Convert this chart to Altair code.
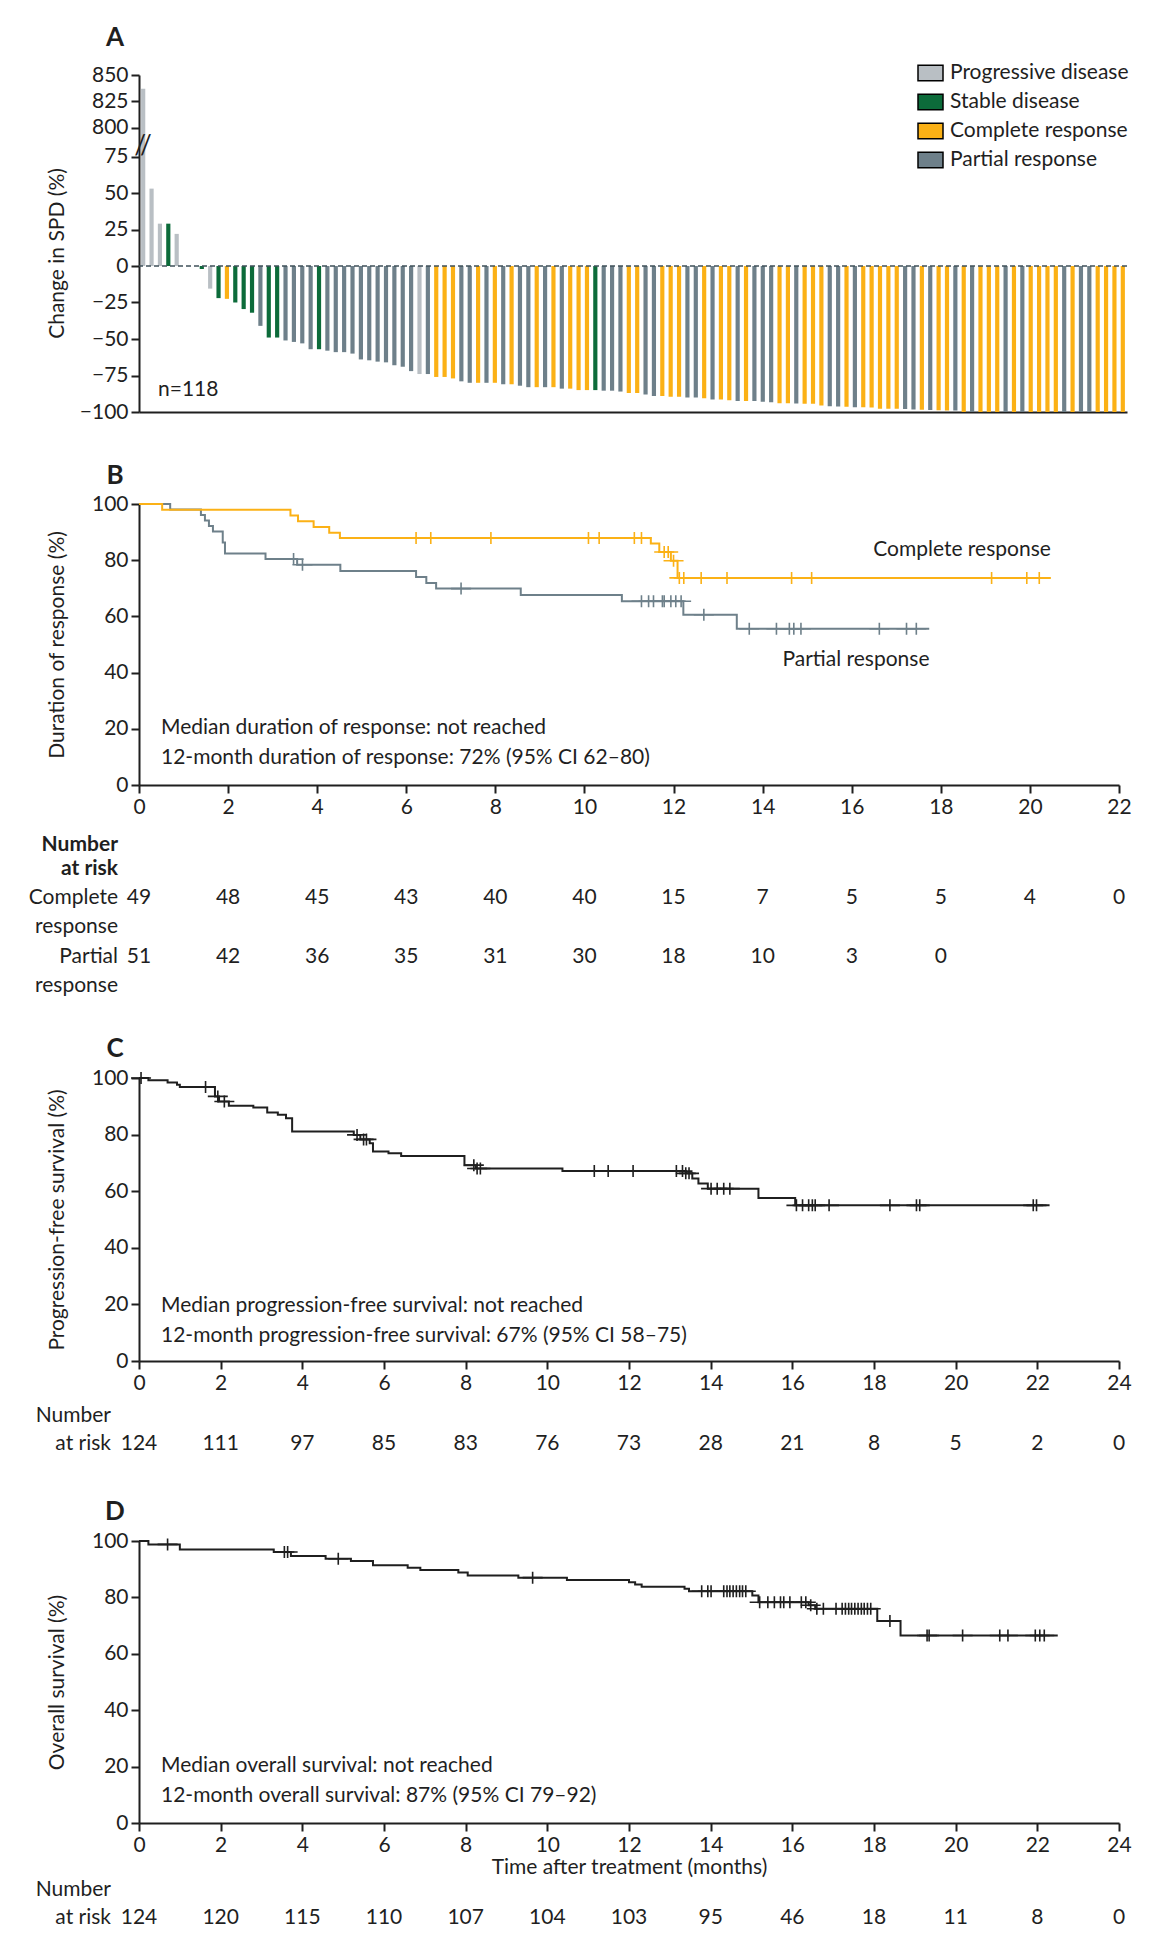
import altair as alt
import pandas as pd

FONT = "Lato"
FS = 21
INK = "#1f1f1f"

RESP_ORDER = ["Progressive disease", "Stable disease", "Complete response", "Partial response"]
RESP_COLORS = ["#b9bfc4", "#0c6b3a", "#fbb116", "#6e808a"]
CODE = {"PD": RESP_ORDER[0], "SD": RESP_ORDER[1], "CR": RESP_ORDER[2], "PR": RESP_ORDER[3]}

# ---------------- Panel A: waterfall ----------------
wf_change = [837, 53, 29, 29, 22, 0, 0,
             -2, -15.5, -22, -22.5, -25, -29.5, -32, -41, -49, -49, -51, -52, -53, -57, -57, -58, -59, -59, -60, -64,
             -64.6, -65.5, -66, -68, -69, -72, -74, -74, -76, -76, -77, -79, -80, -80, -80, -80, -81, -81, -82, -83,
             -83, -83, -83, -84, -84, -85, -85, -85,
             -85.4, -85.4, -86, -87, -87, -88, -89, -89, -89.6, -89.6, -90, -90, -90.5, -91.4, -91.4, -92, -92.5,
             -92.5, -92.5, -93, -93.3, -94, -94, -94.2, -94.4, -94.4, -95.6, -96,
             -96.2, -96.4, -96.8, -96.8, -97, -97.7, -97.7, -97.7, -98, -98.3, -98.5, -98.7, -98.8, -98.9, -99,
             -100, -100, -100, -100, -100, -100, -100, -100, -100, -100, -100, -100, -100,
             -100, -100, -100, -100, -100, -100, -100]
wf_code = ["PD", "PD", "PD", "SD", "PD", "SD", "SD",
           "SD", "PD", "SD", "CR", "SD", "SD", "SD", "PR", "SD", "SD", "PR", "PR", "PR", "PR", "SD", "PR", "PR", "PR", "PR", "PR",
           "PR", "PR", "PR", "PR", "PR", "PR", "PD", "PR", "CR", "CR", "CR", "PR", "PR", "CR", "PR", "CR", "PR", "CR", "PR", "PR",
           "CR", "PR", "CR", "PR", "CR", "CR", "CR", "SD",
           "PR", "PR", "PR", "CR", "CR", "PR", "PR", "CR", "CR", "CR", "PR", "PR", "CR", "PR", "CR", "CR", "PR",
           "CR", "PR", "PR", "PR", "CR", "CR", "PR", "CR", "CR", "CR", "PR",
           "PR", "CR", "PR", "CR", "CR", "CR", "CR", "CR", "PR", "PR", "CR", "PR", "CR", "CR", "PR",
           "CR", "PR", "CR", "CR", "CR", "PR", "CR", "PR", "CR", "CR", "CR", "CR", "PR",
           "CR", "PR", "PR", "CR", "CR", "CR", "CR"]
yA_ticks = [-100, -75, -50, -25, 0, 25, 50, 75, 800, 825, 850]

# ---------------- Panel B: duration of response ----------------
cr_t = [0, 0.52, 3.40, 3.57, 3.92, 4.27, 4.51, 11.49, 11.68, 11.94, 12.09]
cr_s = [100, 97.96, 95.9, 93.9, 91.8, 89.8, 87.9, 85.9, 82.9, 79.8, 73.7]
cr_end = 20.47
cr_cens = [6.22, 6.55, 7.90, 10.09, 10.33, 11.12, 11.28, 11.79, 11.88, 12.0, 12.13, 12.23, 12.62, 13.2,
           14.65, 15.1, 19.14, 19.93, 20.21]
pr_t = [0, 0.70, 1.39, 1.48, 1.57, 1.66, 1.88, 1.93, 2.84, 3.55, 4.52, 6.22, 6.45, 6.67, 8.57, 10.84, 12.22, 13.42]
pr_s = [100, 98.04, 96.08, 94.12, 92.16, 90.2, 86.27, 82.35, 80.39, 78.4, 76.2, 74.0, 71.9, 69.9, 67.6, 65.4, 60.6, 55.6]
pr_end = 17.74
pr_cens = [3.47, 3.67, 7.23, 11.28, 11.44, 11.55, 11.75, 11.79, 11.94, 12.05, 12.17, 12.68, 13.70, 14.31,
           14.60, 14.70, 14.86, 16.62, 17.23, 17.45]
riskB_months = list(range(0, 23, 2))
riskB_cr = [49, 48, 45, 43, 40, 40, 15, 7, 5, 5, 4, 0]
riskB_pr = [51, 42, 36, 35, 31, 30, 18, 10, 3, 0]

# ---------------- Panel C: progression-free survival ----------------
pfs_t = [0, 0.23, 0.70, 0.93, 1.00, 1.86, 1.96, 2.20, 2.80, 3.14, 3.40, 3.60, 3.75, 5.26, 5.42, 5.65, 5.73,
         6.11, 6.42, 7.97, 8.25, 10.37, 13.39, 13.55, 13.70, 13.93, 15.17, 16.07]
pfs_s = [100, 99.2, 98.4, 97.6, 96.8, 93.5, 91.7, 90.2, 89.6, 87.8, 87.0, 85.8, 81.1, 79.9, 78.3, 76.9, 74.0,
         73.4, 72.4, 69.2, 68.0, 67.1, 66.3, 64.5, 62.7, 60.9, 57.6, 55.0]
pfs_end = 22.3
pfs_cens = [0.05, 1.63, 1.93, 2.09, 5.34, 5.5, 5.57, 8.2, 8.28, 8.36, 11.15, 11.49, 12.1, 13.16, 13.31, 13.39,
            13.47, 14.01, 14.16, 14.32, 14.47, 16.1, 16.25, 16.4, 16.49, 16.56, 16.9, 18.39, 19.04, 19.12, 21.9, 21.98]
risk_months24 = list(range(0, 25, 2))
riskC = [124, 111, 97, 85, 83, 76, 73, 28, 21, 8, 5, 2, 0]

# ---------------- Panel D: overall survival ----------------
os_t = [0, 0.23, 1.00, 3.30, 3.72, 4.57, 5.19, 5.73, 6.58, 6.89, 7.82, 8.05, 9.29, 10.48, 12.00, 12.15, 12.31,
        13.36, 13.47, 15.02, 15.17, 16.40, 16.56, 18.08, 18.65]
os_s = [100, 98.8, 97.0, 96.1, 94.7, 93.7, 92.9, 91.4, 90.5, 89.7, 88.8, 87.8, 87.0, 86.2, 85.4, 84.6, 83.8,
        83.1, 82.2, 80.7, 78.3, 77.2, 76.0, 71.6, 66.5]
os_end = 22.5
os_cens = [0.7, 3.56, 3.64, 4.88, 9.64, 13.78, 13.93, 14.01, 14.32, 14.40, 14.47, 14.55, 14.63, 14.71, 14.78,
           14.86, 15.2, 15.40, 15.56, 15.71, 15.79, 15.94, 16.22, 16.33, 16.45, 16.6, 16.76, 17.07, 17.22, 17.30,
           17.38, 17.45, 17.53, 17.61, 17.69, 17.76, 17.84, 17.92, 18.39, 19.3, 19.35, 20.17, 21.08, 21.28, 21.95,
           22.06, 22.17]
riskD = [124, 120, 115, 110, 107, 104, 103, 95, 46, 18, 11, 8, 0]

# ======================================================================
CROSS = "M-1,0H1M0,-0.6V0.6"
LEFT = -130


def one(**kw):
    return alt.Chart(pd.DataFrame({k: [v] for k, v in kw.items()} if kw else {"a": [0]}))


def spacer(top, bottom):
    return one().mark_rule(color="white", strokeWidth=0.5).encode(
        x=alt.value(LEFT), y=alt.value(top), y2=alt.value(bottom))


def label(txt, x, y, size=FS, weight="normal", align="left"):
    return one(t=txt).mark_text(fontSize=size, fontWeight=weight, align=align, baseline="middle",
                                font=FONT, color=INK).encode(text="t:N", x=x, y=y)


def step_df(ts, ss, end):
    return pd.DataFrame({"t": ts + [end], "s": ss + [ss[-1]]})


def at(ts, ss, t):
    v = ss[0]
    for tt, vv in zip(ts, ss):
        if tt <= t:
            v = vv
    return v


def cens_df(ts, ss, cens):
    return pd.DataFrame({"t": cens, "s": [at(ts, ss, c) for c in cens]})


# ---------------- Panel A ----------------
A_W, A_H = 988, 337
dfA = pd.DataFrame({"idx": list(range(1, len(wf_change) + 1)), "change": wf_change,
                    "resp": [CODE[c] for c in wf_code]})
yA = alt.Scale(domain=[-100, 75, 800, 850], range=[A_H, 81.5, 52.5, 0], nice=False, zero=False)

bars = alt.Chart(dfA).mark_bar().encode(
    x=alt.X("idx:O", scale=alt.Scale(paddingInner=0.5, paddingOuter=0.25),
            axis=alt.Axis(labels=False, ticks=False, title=None)),
    y=alt.Y("change:Q", scale=yA,
            axis=alt.Axis(values=yA_ticks, tickCount=40, format="d", title="Change in SPD (%)", titleX=-82,
                          titleY=178, titleBaseline="middle", labelOverlap=False)),
    y2=alt.datum(0),
    color=alt.Color("resp:N", scale=alt.Scale(domain=RESP_ORDER, range=RESP_COLORS),
                    legend=alt.Legend(title=None, orient="none", legendX=778, legendY=-15.5,
                                      symbolType="M-1,-0.62H1V0.62H-1Z", symbolSize=625,
                                      symbolStrokeColor="black", symbolStrokeWidth=1.5, symbolOpacity=1,
                                      labelFont=FONT, labelFontSize=FS, labelColor=INK, labelLimit=400,
                                      rowPadding=4, labelOffset=6, padding=0)),
)
zero_line = one().mark_rule(color="#3f505a", strokeDash=[5, 3], strokeWidth=1.5).encode(y=alt.datum(0))
brk = label("//", alt.value(4), alt.value(71), size=26, align="center")
ntext = label("n=118", alt.value(19), alt.value(315))
letA = label("A", alt.value(-24), alt.value(-37), size=26, weight="bold", align="center")
panelA = alt.layer(bars, zero_line, brk, ntext, letA, spacer(-66, 346)).properties(width=A_W, height=A_H)


# ---------------- KM helpers ----------------
def km_axes(xmax, ytitle, H, xtitle=None):
    xs = alt.Scale(domain=[0, xmax], nice=False)
    ys = alt.Scale(domain=[0, 100], nice=False)
    xa = alt.Axis(values=list(range(0, xmax + 1, 2)), tickCount=40, format="d", labelOverlap=False,
                  labelFlush=False, title=xtitle, titleY=44, titleBaseline="middle")
    ya = alt.Axis(values=[0, 20, 40, 60, 80, 100], tickCount=40, format="d", title=ytitle, titleX=-82,
                  titleY=H / 2, titleBaseline="middle", labelOverlap=False)
    return xs, ys, xa, ya


def km_layers(df_line, df_c, color, xs, ys, xa, ya):
    ln = alt.Chart(df_line).mark_line(interpolate="step-after", strokeWidth=2, color=color).encode(
        x=alt.X("t:Q", scale=xs, axis=xa), y=alt.Y("s:Q", scale=ys, axis=ya))
    cz = alt.Chart(df_c).mark_point(shape=CROSS, size=400, filled=False, strokeWidth=1.6, color=color,
                                    opacity=1).encode(x=alt.X("t:Q", scale=xs), y=alt.Y("s:Q", scale=ys))
    return [ln, cz]


def risk_row(months, values, ypx, xs):
    df = pd.DataFrame({"m": months[:len(values)], "n": [str(v) for v in values]})
    return alt.Chart(df).mark_text(fontSize=FS, font=FONT, color=INK, align="center", baseline="middle").encode(
        x=alt.X("m:Q", scale=xs), y=alt.value(ypx), text="n:N")


# ---------------- Panel B ----------------
B_W, B_H = 980, 281
xs, ys, xa, ya = km_axes(22, "Duration of response (%)", B_H)
C_PR_LINE = "#6e808a"
C_CR_LINE = "#fbb116"
layersB = []
layersB += km_layers(step_df(pr_t, pr_s, pr_end), cens_df(pr_t, pr_s, pr_cens), C_PR_LINE, xs, ys, xa, ya)
layersB += km_layers(step_df(cr_t, cr_s, cr_end), cens_df(cr_t, cr_s, cr_cens), C_CR_LINE, xs, ys, xa, ya)
layersB += [
    label("Complete response", alt.value(823), alt.value(46), align="center"),
    label("Partial response", alt.value(717), alt.value(156), align="center"),
    label("Median duration of response: not reached", alt.value(22), alt.value(224)),
    label("12-month duration of response: 72% (95% CI 62\u201380)", alt.value(22), alt.value(254)),
    label("Number", alt.value(-21), alt.value(341), weight="bold", align="right"),
    label("at risk", alt.value(-21), alt.value(365), weight="bold", align="right"),
    label("Complete", alt.value(-21), alt.value(394), align="right"),
    label("response", alt.value(-21), alt.value(423), align="right"),
    label("Partial", alt.value(-21), alt.value(453), align="right"),
    label("response", alt.value(-21), alt.value(482), align="right"),
    risk_row(riskB_months, riskB_cr, 394, xs),
    risk_row(riskB_months, riskB_pr, 453, xs),
    label("B", alt.value(-24), alt.value(-28), size=26, weight="bold", align="center"),
    spacer(-81, 499),
]
panelB = alt.layer(*layersB).properties(width=B_W, height=B_H)

# ---------------- Panel C ----------------
C_W, C_H = 980, 283
xs, ys, xa, ya = km_axes(24, "Progression-free survival (%)", C_H)
layersC = km_layers(step_df(pfs_t, pfs_s, pfs_end), cens_df(pfs_t, pfs_s, pfs_cens), INK, xs, ys, xa, ya)
layersC += [
    label("Median progression-free survival: not reached", alt.value(22), alt.value(228)),
    label("12-month progression-free survival: 67% (95% CI 58\u201375)", alt.value(22), alt.value(258)),
    label("Number", alt.value(-28), alt.value(338), align="right"),
    label("at risk", alt.value(-28), alt.value(366), align="right"),
    risk_row(risk_months24, riskC, 366, xs),
    label("C", alt.value(-24), alt.value(-29), size=26, weight="bold", align="center"),
    spacer(-73, 387),
]
panelC = alt.layer(*layersC).properties(width=C_W, height=C_H)

# ---------------- Panel D ----------------
D_W, D_H = 980, 282
xs, ys, xa, ya = km_axes(24, "Overall survival (%)", D_H, xtitle="Time after treatment (months)")
layersD = km_layers(step_df(os_t, os_s, os_end), cens_df(os_t, os_s, os_cens), INK, xs, ys, xa, ya)
layersD += [
    label("Median overall survival: not reached", alt.value(22), alt.value(225)),
    label("12-month overall survival: 87% (95% CI 79\u201392)", alt.value(22), alt.value(255)),
    label("Number", alt.value(-28), alt.value(349), align="right"),
    label("at risk", alt.value(-28), alt.value(377), align="right"),
    risk_row(risk_months24, riskD, 377, xs),
    label("D", alt.value(-24), alt.value(-29), size=26, weight="bold", align="center"),
    spacer(-74, 401),
]
panelD = alt.layer(*layersD).properties(width=D_W, height=D_H)

chart = alt.vconcat(panelA, panelB, panelC, panelD, spacing=0).properties(
    padding=0, background="white"
).configure_view(stroke=None).configure_axis(
    grid=False, domainColor=INK, domainWidth=2, tickColor=INK, tickWidth=2, tickSize=8,
    labelFont=FONT, labelFontSize=FS, labelColor=INK, labelPadding=3,
    titleFont=FONT, titleFontSize=FS, titleColor=INK, titleFontWeight="normal"
).configure_text(font=FONT)

chart.save("out.html", embed_options={"renderer": "svg", "actions": False})
